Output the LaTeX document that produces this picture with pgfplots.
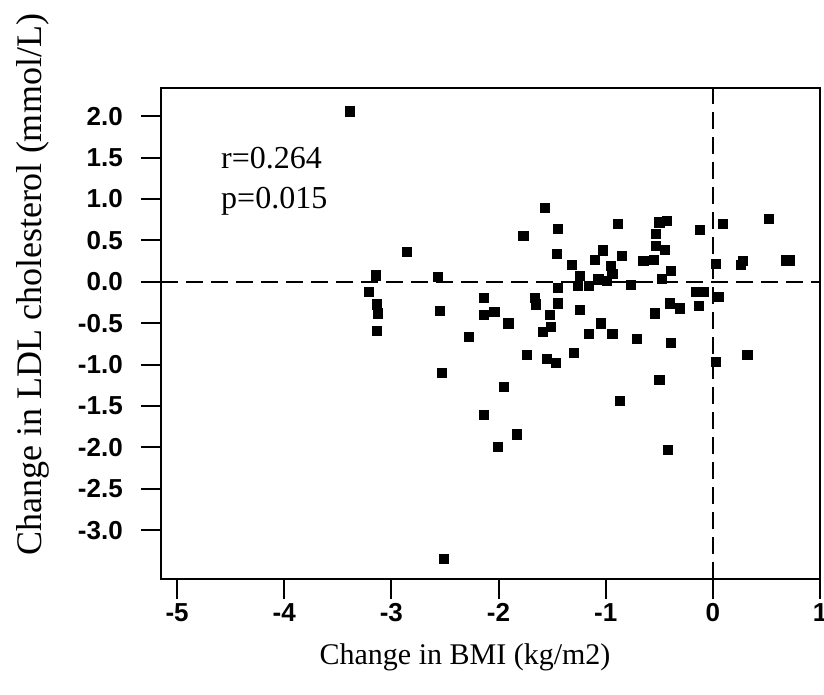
\documentclass[border=0pt]{standalone}
\usepackage{fontspec}
\setmainfont{Liberation Serif}
\newfontfamily\ticksans{Liberation Sans}
\usepackage{pgfplots}
\pgfplotsset{compat=1.18}
\begin{document}
\begin{tikzpicture}
\useasboundingbox (0,0) rectangle (824pt,694pt);
\begin{axis}[
 at={(161pt,115pt)}, anchor=south west,
 scale only axis, width=659pt, height=491pt,
 xmin=-5.15, xmax=1, ymin=-3.59, ymax=2.34,
 axis line style={line width=2.4pt},
 tick align=outside, xtick pos=bottom, ytick pos=left,
 major tick length=20pt,
 every tick/.style={black, line width=2pt},
 xtick={-5,-4,-3,-2,-1,0,1}, xticklabels={-5,-4,-3,-2,-1,0,1},
 ytick={-3,-2.5,-2,-1.5,-1,-0.5,0,0.5,1,1.5,2},
 yticklabels={-3.0,-2.5,-2.0,-1.5,-1.0,-0.5,0.0,0.5,1.0,1.5,2.0},
 ticklabel style={font=\ticksans\bfseries\fontsize{26}{30}\selectfont, inner sep=0pt},
 yticklabel style={anchor=east, xshift=-18pt},
 xticklabel style={anchor=north, yshift=-4pt},
]
\addplot[black, line width=2pt, dash pattern=on 17pt off 8pt] coordinates {(-5.15,0) (1,0)};
\addplot[black, line width=2pt, dash pattern=on 17pt off 8pt] coordinates {(0,-3.59) (0,2.34)};
\addplot[only marks, mark=square*, mark size=4.6pt, black] coordinates {
(-3.39,2.06) (-2.86,0.36) (-3.15,0.08) (-3.21,-0.12) (-3.14,-0.27) (-3.13,-0.38) (-3.14,-0.59)
(-2.57,0.06) (-2.55,-0.35) (-2.53,-1.10) (-2.51,-3.34) (-2.28,-0.66) (-2.14,-0.19) (-2.14,-0.40)
(-2.04,-0.36) (-1.91,-0.50) (-1.95,-1.27) (-2.14,-1.61) (-2.01,-1.99) (-1.83,-1.84)
(-1.77,0.56) (-1.57,0.89) (-1.45,0.64) (-1.46,0.34) (-1.32,0.21) (-1.45,-0.07)
(-1.24,0.07) (-1.26,-0.05) (-1.16,-0.05) (-1.07,0.03) (-0.99,0.01)
(-1.66,-0.19) (-1.65,-0.27) (-1.45,-0.26) (-1.52,-0.40) (-1.51,-0.54) (-1.59,-0.60)
(-1.24,-0.34) (-1.74,-0.88) (-1.55,-0.93) (-1.47,-0.98) (-1.30,-0.86)
(-0.89,0.70) (-1.03,0.38) (-1.10,0.27) (-0.85,0.31) (-0.95,0.19) (-0.94,0.10)
(-0.77,-0.04) (-0.65,0.25) (-0.55,0.27) (-0.53,0.58) (-0.50,0.72) (-0.43,0.74)
(-0.53,0.44) (-0.45,0.39) (-0.39,0.13) (-0.48,0.04)
(-0.12,0.63) (0.09,0.70) (0.52,0.76) (0.03,0.22) (0.26,0.21) (0.28,0.25) (0.68,0.26) (0.72,0.26)
(-0.16,-0.12) (-0.09,-0.12) (0.05,-0.18) (-0.13,-0.29) (-0.40,-0.26) (-0.31,-0.32) (-0.54,-0.38)
(-1.05,-0.50) (-1.16,-0.63) (-0.94,-0.63) (-0.71,-0.69) (-0.39,-0.74)
(0.03,-0.97) (0.32,-0.88) (-0.50,-1.18) (-0.87,-1.44) (-0.42,-2.03)
};
\node[anchor=base west, inner sep=0pt, font=\fontsize{32}{36}\selectfont] at (axis cs:-4.59,1.37) {r=0.264};
\node[anchor=base west, inner sep=0pt, font=\fontsize{32}{36}\selectfont] at (axis cs:-4.59,0.88) {p=0.015};
\end{axis}
\node[font=\fontsize{30}{36}\selectfont] at (465pt,37pt) {Change in BMI (kg/m2)};
\node[rotate=90, font=\fontsize{36}{40}\selectfont] at (33pt,409pt) {Change in LDL cholesterol (mmol/L)};
\end{tikzpicture}
\end{document}
